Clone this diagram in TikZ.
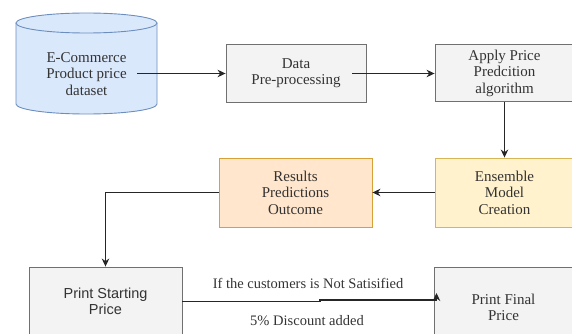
\documentclass[tikz,border=0pt]{standalone}
\usepackage{fontspec}
\setmainfont{Liberation Serif}
\setsansfont{Liberation Sans}
\usetikzlibrary{arrows.meta}
\definecolor{grayfill}{HTML}{F3F3F3}
\definecolor{grayline}{HTML}{707070}
\definecolor{bluefill}{HTML}{DAE8FC}
\definecolor{blueline}{HTML}{6C8EBF}
\definecolor{yelfill}{HTML}{FFF2CC}
\definecolor{yelline}{HTML}{D6B656}
\definecolor{orfill}{HTML}{FFE6CC}
\definecolor{orline}{HTML}{D7A13A}
\begin{document}
\begin{tikzpicture}[x=1pt,y=-1pt,
  base/.style={line width=0.9pt, align=center, inner sep=0pt, text=black!80,
    font=\rmfamily\fontsize{15}{16.5}\selectfont},
  graybox/.style={base, draw=grayline, fill=grayfill},
  yelbox/.style={base, draw=yelline, fill=yelfill},
  orbox/.style={base, draw=orline, fill=orfill},
  dbtext/.style={align=center, inner sep=0pt, text=black!80, font=\rmfamily\fontsize{15}{16.5}\selectfont},
  lbl/.style={inner sep=0pt, text=black!80, font=\rmfamily\fontsize{14.5}{16}\selectfont},
  arr/.style={draw=black!85, line width=1.1pt, -{Stealth[length=8pt,width=7.5pt]}}
]
\useasboundingbox (0,0) rectangle (572,334);
\clip (0,0) rectangle (572,334);
% cylinder
\filldraw[fill=bluefill, draw=blueline, line width=0.9pt]
  (16,23) -- (16,104) arc[start angle=180, end angle=360, x radius=70.5pt, y radius=10pt] -- (157,23);
\filldraw[fill=bluefill, draw=blueline, line width=0.9pt]
  (86.5,23) ellipse[x radius=70.5pt, y radius=10pt];
\node[dbtext] (db) at (86.5,74) {E-Commerce\\Product price\\dataset};
% boxes
\node[graybox, minimum width=140pt, minimum height=58pt] (dp) at (296,73) {Data\\Pre-processing};
\node[graybox, minimum width=139pt, minimum height=57pt] (ap) at (504.5,73) {Apply Price\\Predcition\\algorithm};
\node[yelbox, minimum width=139pt, minimum height=69pt] (en) at (504.5,192.5) {Ensemble\\Model\\Creation};
\node[orbox, minimum width=153pt, minimum height=69pt] (re) at (295.5,192.5) {Results\\Predictions\\Outcome};
\node[graybox, font=\sffamily\fontsize{14.5}{16.5}\selectfont, minimum width=153pt, minimum height=69pt] (ps) at (105.5,301.5) {Print Starting\\Price};
\node[graybox, minimum width=139pt, minimum height=81pt] (pf) at (503.5,307.5) {Print Final\\Price};
% labels
\node[lbl] (l1) at (308,283) {If the customers is Not Satisified};
\node[lbl] (l2) at (307,321) {5\% Discount added};
% connectors
\coordinate (s1) at (137,73.5);
\coordinate (s2) at (352,73.5);
\draw[arr] (s1) -- (s1 -| dp.west);
\draw[arr] (s2) -- (s2 -| ap.west);
\draw[arr] (ap.south) -- (en.north);
\draw[arr] (en.west) -- (re.east);
\draw[arr] (re.west) -| (ps.north);
\coordinate (j1) at (320,301.5);
\coordinate (j2) at (320,300);
\coordinate (j3) at (436.5,300);
\coordinate (j4) at (436.5,293);
\draw[arr] (ps.east) -- (j1) -- (j2) -- (j3) -- (j4);
\end{tikzpicture}
\end{document}
